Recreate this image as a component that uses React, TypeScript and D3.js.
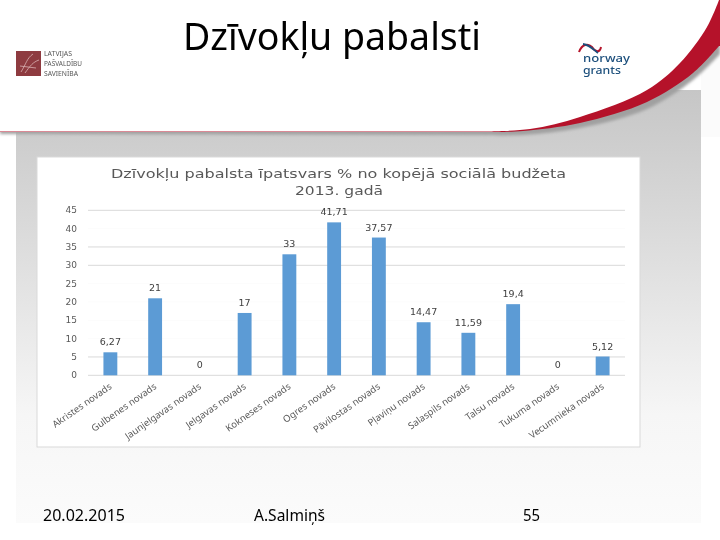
import React from "react";
import * as d3 from "d3";

const categories = ["Akristes novads","Gulbenes novads","Jaunjelgavas novads","Jelgavas novads","Kokneses novads","Ogres novads","Pāvilostas novads","Pļaviņu novads","Salaspils novads","Talsu novads","Tukuma novads","Vecumnieka novads"];
const values = [6.27,21,0,17,33,41.71,37.57,14.47,11.59,19.4,0,5.12];
const valueLabels = ["6,27","21","0","17","33","41,71","37,57","14,47","11,59","19,4","0","5,12"];
const yTicks = [0,5,10,15,20,25,30,35,40,45];
const gridTicks = [0,5,30,35,45];
const faintTicks = [10,15,20,25,40];

const x = d3.scaleBand<string>().domain(categories).range([88,625]).paddingInner(0.69).paddingOuter(0.345);
const y = d3.scaleLinear().domain([0,45]).range([375.3,210.3]);
const sans = "'DejaVu Sans', sans-serif";
const narrow = "'Noto Sans', 'Open Sans', sans-serif";

const white = d3.line().curve(d3.curveCatmullRom)([[480,131.5],[530,129],[580,117],[647,90],[680,63],[707,27],[719,0]] as [number,number][])!;
const redLow = d3.line().curve(d3.curveCatmullRom)([[719,46],[693,73],[647,102],[580,123],[523,131],[500,132]] as [number,number][])!;
const shadowEdge = d3.line().curve(d3.curveCatmullRom)([[720,54],[693,80],[647,109],[580,128],[523,135],[480,135]] as [number,number][])!;

export default function App() {
  return (
    <svg width={720} height={540} viewBox="0 0 720 540" style={{position:"absolute",left:0,top:0,background:"#fff"}}>
      <defs>
        <linearGradient id="bg" x1="0" y1="0" x2="0" y2="1">
          <stop offset="0" stopColor="#c6c6c6"/>
          <stop offset="0.35" stopColor="#dcdcdc"/>
          <stop offset="0.75" stopColor="#f6f6f6"/>
          <stop offset="1" stopColor="#fbfbfb"/>
        </linearGradient>
        <filter id="soft" x="-5%" y="-5%" width="110%" height="110%"><feGaussianBlur stdDeviation="0.35"/></filter>
        <filter id="blur2" x="-5%" y="-20%" width="110%" height="140%"><feGaussianBlur stdDeviation="1.4"/></filter>
      </defs>

      <rect x={701} y={60} width={19} height={77} fill="#fbfbfb"/>
      <rect x={16} y={90} width={685} height={433} fill="url(#bg)"/>

      <path d={`${shadowEdge}L0,134L0,0L720,0Z`} fill="#a0a0a0" filter="url(#blur2)"/>
      <path d={`${redLow}L0,132L0,0L720,0L720,46Z`} fill="#b5122a"/>
      <path d={`${white}L0,0L0,131.5Z`} fill="#fff"/>

      <g filter="url(#soft)">
        <text x={183} y={50} fontFamily={narrow} fontSize={38} fill="#000" textLength={298} lengthAdjust="spacingAndGlyphs">Dzīvokļu pabalsti</text>
        <rect x={16} y={51} width={25} height={25} fill="#8e3b40"/>
        <path d="M21,72 C26,64 27,58 33,54 M25,73 C30,66 33,62 39,60 M20,66 L36,68" stroke="#d9b2b2" strokeWidth={0.8} fill="none"/>
        <g fontFamily={narrow} fontSize={6.5} fill="#555">
          <text x={44} y={56} textLength={28} lengthAdjust="spacingAndGlyphs">LATVIJAS</text>
          <text x={44} y={66} textLength={38} lengthAdjust="spacingAndGlyphs">PAŠVALDĪBU</text>
          <text x={44} y={76} textLength={34} lengthAdjust="spacingAndGlyphs">SAVIENĪBA</text>
        </g>
        <path d="M579,52 C582,44 588,43 592,47 C595,52 600,53 601,47" stroke="#b5122a" strokeWidth={2} fill="none"/>
        <path d="M583,44 C590,45 594,50 598,53" stroke="#1c4f7c" strokeWidth={1.8} fill="none"/>
        <text x={583} y={62} fontFamily={narrow} fontSize={10.5} fontWeight={500} fill="#1c4f7c" textLength={47} lengthAdjust="spacingAndGlyphs">norway</text>
        <text x={583} y={74} fontFamily={narrow} fontSize={10.5} fontWeight={500} fill="#1c4f7c" textLength={38} lengthAdjust="spacingAndGlyphs">grants</text>
      </g>

      <rect x={37} y={157} width={603} height={290} fill="#fff" stroke="#d9d9d9" strokeWidth={1}/>

      <g filter="url(#soft)">
        <text x={111} y={178} fontFamily={sans} fontSize={13} fill="#595959" textLength={455} lengthAdjust="spacingAndGlyphs">Dzīvokļu pabalsta īpatsvars % no kopējā sociālā budžeta</text>
        <text x={295} y={195} fontFamily={sans} fontSize={13} fill="#595959" textLength={88} lengthAdjust="spacingAndGlyphs">2013. gadā</text>

        {faintTicks.map(t => <line key={t} x1={88} x2={625} y1={y(t)} y2={y(t)} stroke="#fcfcfc"/>)}
        {gridTicks.map(t => <line key={t} x1={88} x2={625} y1={y(t)} y2={y(t)} stroke="#d9d9d9"/>)}
        {yTicks.map(t => <text key={t} x={77} y={y(t)+3} textAnchor="end" fontFamily={sans} fontSize={9} fill="#595959">{t}</text>)}

        {categories.map((c,i) => (
          <rect key={c} x={x(c)!} y={y(values[i])} width={x.bandwidth()} height={y(0)-y(values[i])} fill="#5b9bd5"/>
        ))}
        {categories.map((c,i) => (
          <text key={c} x={x(c)!+x.bandwidth()/2} y={y(values[i])-7} textAnchor="middle" fontFamily={sans} fontSize={9.5} fill="#404040">{valueLabels[i]}</text>
        ))}
        {categories.map(c => {
          const cx = x(c)!+x.bandwidth()/2+2;
          return <text key={c} transform={`translate(${cx},388) rotate(-35)`} textAnchor="end" fontFamily={narrow} fontSize={9.5} fill="#595959">{c}</text>;
        })}
      </g>

      <g filter="url(#soft)" fontFamily={narrow} fontSize={15.5} fill="#000">
        <text x={43} y={521} textLength={82} lengthAdjust="spacingAndGlyphs">20.02.2015</text>
        <text x={254} y={521} textLength={71} lengthAdjust="spacingAndGlyphs">A.Salmiņš</text>
        <text x={523} y={521} textLength={17} lengthAdjust="spacingAndGlyphs">55</text>
      </g>
    </svg>
  );
}
